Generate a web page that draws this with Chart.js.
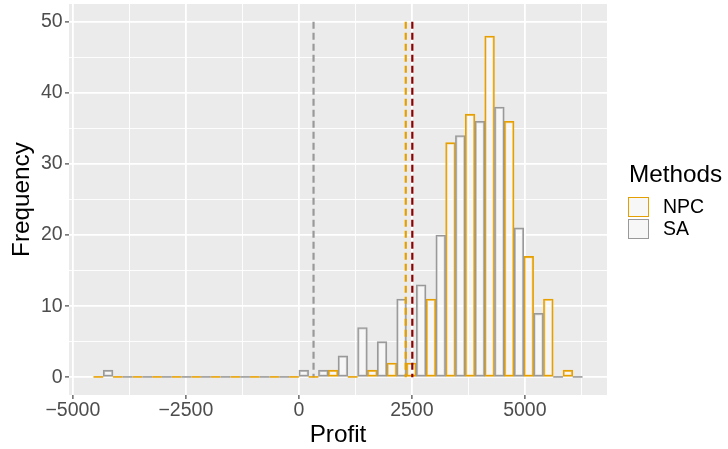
<!DOCTYPE html>
<html>
<head>
<meta charset="utf-8">
<script src="https://cdn.jsdelivr.net/npm/chart.js@4.4.1/dist/chart.umd.min.js"></script>
<style>
  html, body { margin: 0; padding: 0; background: #ffffff; }
  #wrap { position: relative; width: 728px; height: 449px; overflow: hidden; }
  #c { position: absolute; left: 0; top: 0; }
  .lg { position: absolute; font-family: "Liberation Sans", Arial, sans-serif; color: #000; white-space: nowrap; }
  .key { position: absolute; box-sizing: border-box; width: 21px; height: 20px; background: #f7f7f7; border: 1.5px solid; }
  .lab { position: absolute; height: 20px; display: flex; align-items: center; font-family: "Liberation Sans", Arial, sans-serif; font-size: 19.5px; line-height: 1; color: #000; }
</style>
</head>
<body>
<div id="wrap">
  <canvas id="c" width="728" height="449"></canvas>
  <div class="lg" style="left:629px; top:161.5px; font-size:24.3px; line-height:1;">Methods</div>
  <div class="key" style="left:628px; top:197px; border-color:#E69F00;"></div>
  <div class="lab" style="left:663px; top:197px;">NPC</div>
  <div class="key" style="left:628px; top:219px; border-color:#999999;"></div>
  <div class="lab" style="left:663px; top:219px;">SA</div>
</div>
<script>
// ---- data ----
const binCenters = [-4328, -3895, -3462, -3029, -2597, -2164, -1731, -1298, -865, -433,
                    0, 433, 866, 1299, 1732, 2164, 2597, 3030, 3463, 3896, 4328, 4761, 5194, 5627, 6060];
const npcCounts = [0, 0, 0, 0, 0, 0, 0, 0, 0, 0, 0, 0, 1, 0, 1, 2, 2, 11, 33, 37, 48, 36, 17, 11, 1];
const saCounts  = [1, 0, 0, 0, 0, 0, 0, 0, 0, 0, 1, 1, 3, 7, 5, 11, 13, 20, 34, 36, 38, 21, 9, 0, 0];
const binWidth = 432.8;
const markerValues = [325, 2365, 2510];      // grey (SA), orange (NPC), dark red
const markerColors = ['#999999', '#E69F00', '#8B0000'];
const markerTop = 50;
const xTickValues = [-5000, -3750, -2500, -1250, 0, 1250, 2500, 3750, 5000, 6250];
const yTickValues = [0, 5, 10, 15, 20, 25, 30, 35, 40, 45, 50];

const dodge = binWidth / 4;
const npcData = binCenters.map((c, i) => ({ x: c - dodge, y: npcCounts[i] }));
const saData  = binCenters.map((c, i) => ({ x: c + dodge, y: saCounts[i] }));

const markerSets = markerValues.map((v, i) => ({
  type: 'line',
  data: [{ x: v, y: markerTop }, { x: v, y: 0 }],
  borderColor: markerColors[i],
  borderWidth: 2.2,
  borderDash: [7, 4],
  pointRadius: 0,
  fill: false,
  order: -1
}));

const panelBg = {
  id: 'panelBg',
  beforeDraw(chart) {
    const a = chart.chartArea, ctx = chart.ctx;
    ctx.save();
    ctx.fillStyle = '#EBEBEB';
    ctx.fillRect(a.left, a.top, a.right - a.left, a.bottom - a.top);
    ctx.restore();
  }
};

// ggplot draws empty bins as flat outlines on the baseline
const zeroBins = {
  id: 'zeroBins',
  afterDatasetsDraw(chart) {
    const ctx = chart.ctx;
    [1, 0].forEach(di => {
      const meta = chart.getDatasetMeta(di);
      const ds = chart.data.datasets[di];
      ctx.save();
      ctx.strokeStyle = ds.borderColor;
      ctx.lineWidth = 1.6;
      meta.data.forEach((el, i) => {
        if (ds.data[i].y === 0) {
          const p = el.getProps(['x', 'base', 'width'], true);
          ctx.beginPath();
          ctx.moveTo(p.x - p.width / 2, p.base - 0.3);
          ctx.lineTo(p.x + p.width / 2, p.base - 0.3);
          ctx.stroke();
        }
      });
      ctx.restore();
    });
  }
};

const tickFont = { family: 'Liberation Sans', size: 19.5 };
const titleFont = { family: 'Liberation Sans', size: 24.3, lineHeight: 1.2 };
const fmt = v => (v < 0 ? '\u2212' + Math.abs(v) : String(v));

new Chart(document.getElementById('c'), {
  type: 'bar',
  data: {
    datasets: [
      {
        label: 'SA',
        data: saData,
        backgroundColor: 'rgba(255,255,255,0.55)',
        borderColor: '#999999',
        borderWidth: 1.6,
        borderSkipped: false,
        order: 0
      },
      {
        label: 'NPC',
        data: npcData,
        backgroundColor: 'rgba(255,255,255,0.55)',
        borderColor: '#E69F00',
        borderWidth: 1.6,
        borderSkipped: false,
        order: 1
      },
      ...markerSets
    ]
  },
  options: {
    responsive: false,
    animation: false,
    devicePixelRatio: 1,
    layout: { padding: { left: 0, top: 4, right: 121, bottom: 0 } },
    datasets: { bar: { barPercentage: 1, categoryPercentage: 1, grouped: false } },
    plugins: { legend: { display: false }, tooltip: { enabled: false } },
    scales: {
      x: {
        type: 'linear',
        min: -5085,
        max: 6817,
        offset: false,
        afterBuildTicks: s => { s.ticks = xTickValues.map(v => ({ value: v })); },
        afterFit: s => { s.height = 54; s.paddingLeft = 0; s.paddingRight = 0; },
        border: { display: false },
        grid: {
          offset: false,
          color: '#FFFFFF',
          lineWidth: ctx => (ctx.tick && ctx.tick.value % 2500 === 0 ? 1.8 : 0.9),
          tickLength: 4,
          tickColor: ctx => (ctx.tick && ctx.tick.value % 2500 === 0 ? '#333333' : 'rgba(0,0,0,0)'),
          tickWidth: 1.1
        },
        ticks: {
          autoSkip: false, maxRotation: 0, padding: 0,
          color: '#4D4D4D', font: tickFont,
          callback: v => (v % 2500 === 0 ? fmt(v) : '')
        },
        title: { display: true, text: 'Profit', color: '#000', font: titleFont, padding: { top: 0, bottom: -1 } }
      },
      y: {
        type: 'linear',
        min: -2.5,
        max: 52.5,
        afterBuildTicks: s => { s.ticks = yTickValues.map(v => ({ value: v })); },
        afterFit: s => { s.width = 69; s.paddingTop = 0; s.paddingBottom = 0; },
        border: { display: false },
        grid: {
          color: '#FFFFFF',
          lineWidth: ctx => (ctx.tick && ctx.tick.value % 10 === 0 ? 1.8 : 0.9),
          tickLength: 4,
          tickColor: ctx => (ctx.tick && ctx.tick.value % 10 === 0 ? '#333333' : 'rgba(0,0,0,0)'),
          tickWidth: 1.1
        },
        ticks: {
          autoSkip: false, padding: 2.3,
          color: '#4D4D4D', font: tickFont,
          callback: v => (v % 10 === 0 ? String(v) : '')
        },
        title: { display: true, text: 'Frequency', color: '#000', font: titleFont, padding: { top: 8, bottom: 0 } }
      }
    }
  },
  plugins: [panelBg, zeroBins]
});
</script>
</body>
</html>
